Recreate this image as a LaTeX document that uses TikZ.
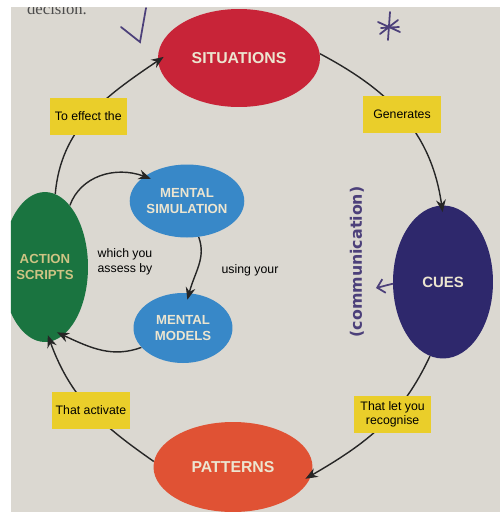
\documentclass[tikz,border=0pt]{standalone}
\usepackage{fontspec}
\setmainfont{Liberation Sans}
\newfontfamily\handfont{DejaVu Sans}
\newfontfamily\bookfont{Liberation Serif}
\usetikzlibrary{shapes.geometric, arrows.meta}
\definecolor{paper}{RGB}{219,216,209}
\definecolor{sitred}{RGB}{200,36,56}
\definecolor{cuesblue}{RGB}{46,40,108}
\definecolor{patorange}{RGB}{224,82,52}
\definecolor{actgreen}{RGB}{26,116,64}
\definecolor{mentblue}{RGB}{56,136,200}
\definecolor{tagyellow}{RGB}{234,206,42}
\definecolor{blobtext}{RGB}{236,229,208}
\definecolor{acttext}{RGB}{206,196,132}
\definecolor{ink}{RGB}{76,64,122}

\begin{document}
\begin{tikzpicture}[x=0.02cm, y=-0.02cm, >={Stealth[length=7pt, width=5.5pt]},
  blob/.style={ellipse, inner sep=0pt, text=blobtext, align=center, font=\bfseries\fontsize{7.5}{9}\selectfont},
  bigblob/.style={blob, font=\bfseries\fontsize{9}{11}\selectfont},
  tag/.style={fill=tagyellow, minimum width=1.55cm, minimum height=0.74cm, inner sep=1pt, align=center, font=\fontsize{7}{8.5}\selectfont},
  loop/.style={->, line width=0.8pt, draw=black!85, shorten >=-4pt},
  note/.style={align=left, font=\fontsize{7}{8.5}\selectfont},
  ink/.style={draw=ink, line width=1pt, line cap=round}]
\useasboundingbox (0,0) rectangle (500,512);
\fill[white] (0,0) rectangle (500,512);
\begin{scope}
\clip (11,7) rectangle (500,512);
\fill[paper] (11,7) rectangle (500,512);

% book text and pen marks
\node[text=black!70, font=\bookfont\fontsize{9.5}{11}\selectfont] (prev) at (57,9) {decision.};
\draw[ink] (146,8) -- (140,42) -- (121,27);
\draw[ink] (390,12) -- (388,40) (378,22) -- (400,32) (380,34) -- (398,20) (381,28) -- (399,27);

% the cycle
\node[bigblob, fill=sitred, minimum width=3.24cm, minimum height=1.96cm] (sit) at (239,58) {SITUATIONS};
\node[blob, font=\bfseries\fontsize{8.5}{10}\selectfont, fill=cuesblue, minimum width=2cm, minimum height=3.06cm] (cues) at (443,282) {CUES};
\node[bigblob, fill=patorange, minimum width=3.18cm, minimum height=1.8cm] (pat) at (233,467) {PATTERNS};
\node[blob, text=acttext, fill=actgreen, minimum width=1.72cm, minimum height=3cm] (act) at (45,267) {ACTION\\SCRIPTS};
\node[blob, fill=mentblue, minimum width=2cm, minimum height=1.46cm] (sim) at (187,201) {MENTAL\\SIMULATION};
\node[blob, fill=mentblue, minimum width=1.98cm, minimum height=1.4cm] (mod) at (183,328) {MENTAL\\MODELS};

\draw[loop] (act.82) to[out=85, in=214] node[tag] (effect) {To effect the} (sit.182);
\draw[loop] (sit.3) to[out=-28, in=98] node[tag] (gen) {Generates} (cues.91);
\draw[loop] (cues.-100) to[out=-115, in=30] node[tag, pos=0.4] (recog) {That let you\\recognise} (pat.-6);
\draw[loop] (pat.176) to[out=145, in=-70] node[tag] (activ) {That activate} (act.-86);

% inner loop
\draw[loop] (act.68) to[out=70, in=160] (sim.150);
\draw[loop] (sim.-72) to[out=-70, in=75] (mod.80);
\draw[loop] (mod.205) to[out=200, in=-25] (act.-75);
\node[note] (assess) at (125,262) {which you\\assess by};
\node[note] (using) at (250,270) {using your};

% margin note
\node[text=ink, rotate=90, font=\handfont\bfseries\fontsize{9}{10}\selectfont] (comm) at (357,262) {(communication)};
\coordinate (commend) at (376,288);
\draw[ink, -{Straight Barb[length=4pt]}] (cues.182) -- (commend);
\end{scope}
\end{tikzpicture}
\end{document}
